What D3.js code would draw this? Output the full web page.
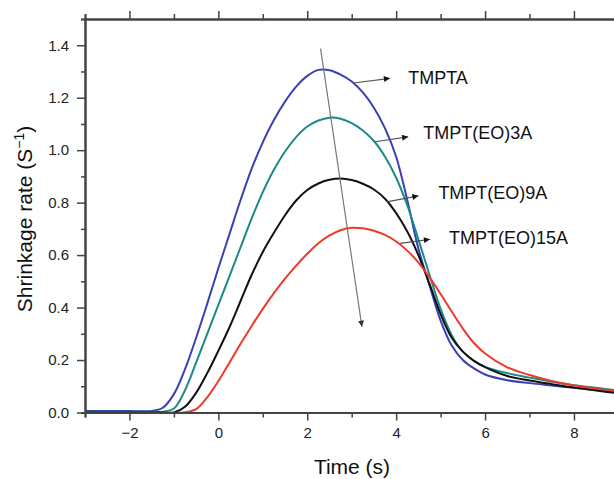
<!DOCTYPE html>
<html><head><meta charset="utf-8">
<script src="https://cdn.jsdelivr.net/npm/d3@7"></script>
<style>
html,body{margin:0;padding:0;background:#fff;}
svg{display:block;font-family:"Liberation Sans",Arial,Helvetica,sans-serif;}
</style></head>
<body>
<svg id="chart" width="614" height="479"></svg>
<script>
// ---- data ----
const time = [-3,-2,-1.5,-1.25,-1,-0.75,-0.5,-0.25,0,0.25,0.5,0.75,1,1.25,1.5,1.75,2,2.25,2.5,2.75,3,3.25,3.5,3.75,4,4.25,4.5,4.75,5,5.25,5.5,5.75,6,6.5,7,7.5,8,8.5,9];
const tmpta   = [0.006,0.006,0.006,0.018,0.07,0.165,0.285,0.415,0.55,0.68,0.81,0.93,1.03,1.115,1.185,1.242,1.283,1.306,1.305,1.288,1.262,1.22,1.162,1.083,0.975,0.81,0.625,0.485,0.35,0.255,0.2,0.168,0.145,0.123,0.112,0.103,0.094,0.086,0.078];
const eo3a    = [0.003,0.003,0.003,0.003,0.015,0.085,0.19,0.3,0.41,0.52,0.63,0.74,0.84,0.925,0.995,1.05,1.09,1.113,1.124,1.12,1.103,1.075,1.035,0.975,0.895,0.79,0.66,0.525,0.395,0.295,0.232,0.197,0.174,0.15,0.133,0.117,0.104,0.094,0.084];
const eo9a    = [0.0,0.0,0.0,0.0,0.0,0.022,0.075,0.15,0.235,0.325,0.425,0.525,0.612,0.685,0.752,0.808,0.848,0.873,0.887,0.892,0.886,0.872,0.85,0.815,0.76,0.69,0.6,0.49,0.375,0.285,0.232,0.197,0.173,0.139,0.122,0.108,0.095,0.084,0.073];
const eo15a   = [-0.002,-0.002,-0.002,-0.002,-0.002,0.001,0.013,0.058,0.12,0.19,0.262,0.33,0.395,0.455,0.51,0.56,0.605,0.645,0.675,0.695,0.704,0.702,0.693,0.677,0.652,0.617,0.572,0.515,0.452,0.385,0.32,0.265,0.225,0.172,0.143,0.12,0.103,0.091,0.081];
const seriesNames = ["TMPTA","TMPT(EO)3A","TMPT(EO)9A","TMPT(EO)15A"];
const seriesValues = [tmpta, eo3a, eo9a, eo15a];
const seriesColors = ["#3b3fb4","#1b8a88","#111111","#ee3a2a"];
const xMajorTicks = [-2,0,2,4,6,8];
const xMinorTicks = [-3,-1,1,3,5,7,9];
const yMajorTicks = [0,0.2,0.4,0.6,0.8,1.0,1.2,1.4];
const yMinorTicks = [0.1,0.3,0.5,0.7,0.9,1.1,1.3,1.5];
// label arrows: [arrow start t, y], [arrow end t, y], [text t, y]
const labelArrows = [
  [[3.04,1.256],[3.86,1.274],[4.27,1.254]],
  [[3.52,1.032],[4.27,1.051],[4.61,1.042]],
  [[3.79,0.803],[4.50,0.826],[4.95,0.812]],
  [[4.09,0.645],[4.76,0.660],[5.19,0.641]]
];
const trendArrow = [[2.30,1.387],[3.23,0.327]];

// ---- layout ----
const svg = d3.select("#chart");
const x = d3.scaleLinear().domain([-3,9]).range([85,618.4]);
const y = d3.scaleLinear().domain([0,1.5]).range([412.5,19]);

const defs = svg.append("defs");
defs.append("marker").attr("id","ah").attr("viewBox","0 0 10 10")
  .attr("refX",10).attr("refY",5).attr("markerWidth",9).attr("markerHeight",6)
  .attr("markerUnits","userSpaceOnUse").attr("orient","auto")
  .append("path").attr("d","M0,0L10,5L0,10Z").attr("fill","#111");
defs.append("marker").attr("id","ahg").attr("viewBox","0 0 10 10")
  .attr("refX",10).attr("refY",5).attr("markerWidth",10).attr("markerHeight",6)
  .attr("markerUnits","userSpaceOnUse").attr("orient","auto")
  .append("path").attr("d","M0,0L10,5L0,10Z").attr("fill","#333");

// curves
const line = d3.line().x(d=>x(d[0])).y(d=>y(d[1])).curve(d3.curveCatmullRom.alpha(0.5));
seriesValues.forEach((vals,i)=>{
  svg.append("path").datum(time.map((t,j)=>[t,vals[j]]))
    .attr("d",line).attr("fill","none").attr("stroke",seriesColors[i])
    .attr("stroke-width",2);
});

// axes
function styleAxis(g){
  g.select(".domain").attr("stroke","#444").attr("stroke-width",2);
  g.selectAll(".tick line").attr("stroke","#444").attr("stroke-width",1.5);
  g.selectAll("text").attr("fill","#222").style("font-size","15px")
    .style("font-family","'Liberation Sans',Arial,sans-serif");
}
const gxMinor = svg.append("g").attr("transform",`translate(0,${y(0)})`)
  .call(d3.axisBottom(x).tickValues(xMinorTicks).tickSize(5).tickFormat(""));
styleAxis(gxMinor);
const gx = svg.append("g").attr("transform",`translate(0,${y(0)})`)
  .call(d3.axisBottom(x).tickValues(xMajorTicks).tickSize(8).tickSizeOuter(0).tickPadding(7));
styleAxis(gx);
const gtMinor = svg.append("g").attr("transform",`translate(0,${y(1.5)})`)
  .call(d3.axisTop(x).tickValues(xMinorTicks).tickSize(5).tickFormat(""));
styleAxis(gtMinor);
const gt = svg.append("g").attr("transform",`translate(0,${y(1.5)})`)
  .call(d3.axisTop(x).tickValues(xMajorTicks).tickSize(8).tickSizeOuter(0).tickFormat(""));
styleAxis(gt);
const gyMinor = svg.append("g").attr("transform",`translate(${x(-3)},0)`)
  .call(d3.axisLeft(y).tickValues(yMinorTicks).tickSize(4).tickFormat(""));
styleAxis(gyMinor);
const gy = svg.append("g").attr("transform",`translate(${x(-3)},0)`)
  .call(d3.axisLeft(y).tickValues(yMajorTicks).tickSize(8).tickSizeOuter(0).tickPadding(8).tickFormat(d3.format(".1f")));
styleAxis(gy);

// axis titles
svg.append("text").attr("x",352).attr("y",474).attr("text-anchor","middle")
  .style("font-size","21px").attr("fill","#111").text("Time (s)");
const yt = svg.append("text").attr("transform","translate(32,219) rotate(-90)")
  .attr("text-anchor","middle").style("font-size","21px").attr("fill","#111");
yt.append("tspan").text("Shrinkage rate (S");
yt.append("tspan").attr("dy",-8).style("font-size","14px").text("\u22121");
yt.append("tspan").attr("dy",8).text(")");

// trend arrow
svg.append("line").attr("x1",x(trendArrow[0][0])).attr("y1",y(trendArrow[0][1]))
  .attr("x2",x(trendArrow[1][0])).attr("y2",y(trendArrow[1][1]))
  .attr("stroke","#777").attr("stroke-width",1.2).attr("marker-end","url(#ahg)");

// labels with arrows
labelArrows.forEach((a,i)=>{
  svg.append("line").attr("x1",x(a[0][0])).attr("y1",y(a[0][1]))
    .attr("x2",x(a[1][0])).attr("y2",y(a[1][1]))
    .attr("stroke","#555").attr("stroke-width",1.2).attr("marker-end","url(#ah)");
  svg.append("text").attr("x",x(a[2][0])).attr("y",y(a[2][1]))
    .style("font-size","18px").attr("fill","#111").text(seriesNames[i]);
});
</script>
</body></html>
